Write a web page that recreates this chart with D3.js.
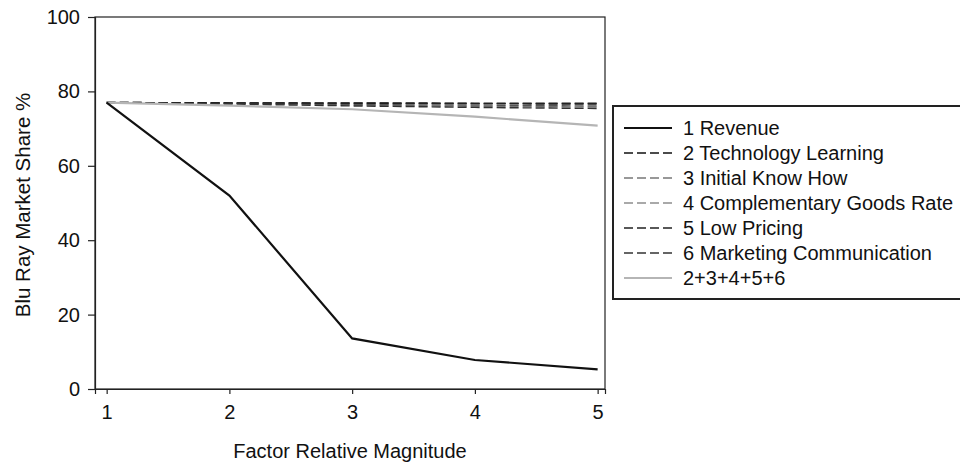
<!DOCTYPE html>
<html>
<head>
<meta charset="utf-8">
<script src="https://cdn.jsdelivr.net/npm/d3@7"></script>
<style>
  body { margin: 0; background: #fff; }
  text { font-family: Arial, "Liberation Sans", sans-serif; fill: #111; }
</style>
</head>
<body>
<div id="chart"></div>
<script>
// factor magnitude on the x axis
var magnitudes = [1, 2, 3, 4, 5];

// market share series
var revenue     = [77, 52, 13.6, 7.8, 5.3];
var techLearn   = [77, 76.9, 76.8, 76.7, 76.6];
var knowHow     = [77, 76.7, 76.3, 76.0, 75.8];
var compGoods   = [77, 76.8, 76.5, 76.3, 76.1];
var lowPricing  = [77, 76.9, 76.9, 76.8, 76.8];
var marketing   = [77, 76.6, 76.1, 75.7, 75.4];
var combined    = [77, 76.2, 75.2, 73.2, 70.8];

var yTicks = [0, 20, 40, 60, 80, 100];

var seriesNames = ['1 Revenue', '2 Technology Learning', '3 Initial Know How',
  '4 Complementary Goods Rate', '5 Low Pricing', '6 Marketing Communication', '2+3+4+5+6'];
var seriesValues = [revenue, techLearn, knowHow, compGoods, lowPricing, marketing, combined];

// line styles per series
var styles = [
  {color: '#111', width: 2.2, dash: null},
  {color: '#111', width: 1.6, dash: '9,4'},
  {color: '#777', width: 1.4, dash: '9,4'},
  {color: '#555', width: 1.2, dash: '9,4'},
  {color: '#222', width: 1.6, dash: '9,4'},
  {color: '#333', width: 1.4, dash: '9,4'},
  {color: '#b5b5b5', width: 2.2, dash: null}
];

var W = 960, H = 463;
var mLeft = 95, mRight = 605, mTop = 17, mBottom = 389;
var fs = 20;

var svg = d3.select('#chart').append('svg')
  .attr('width', W).attr('height', H);

var x = d3.scaleLinear().domain([0.905, 5.06]).range([mLeft, mRight]);
var y = d3.scaleLinear().domain([0, 100]).range([mBottom, mTop]);

// frame
svg.append('rect')
  .attr('x', mLeft).attr('y', mTop)
  .attr('width', mRight - mLeft).attr('height', mBottom - mTop)
  .attr('fill', 'none').attr('stroke', '#222').attr('stroke-width', 1.2);

var yAxis = svg.append('g')
  .attr('transform', 'translate(' + mLeft + ',0)')
  .call(d3.axisLeft(y).tickValues(yTicks).tickFormat(d3.format('d')).tickSize(7).tickPadding(8));
var xAxis = svg.append('g')
  .attr('transform', 'translate(0,' + mBottom + ')')
  .call(d3.axisBottom(x).tickValues(magnitudes).tickFormat(d3.format('d')).tickSize(5).tickPadding(11));

[yAxis, xAxis].forEach(function(g) {
  g.select('.domain').attr('stroke', '#222').attr('stroke-width', 1.2);
  g.selectAll('.tick line').attr('stroke', '#222').attr('stroke-width', 1.2);
  g.selectAll('.tick text').attr('font-size', fs).attr('font-family', 'Arial, "Liberation Sans", sans-serif').attr('fill', '#111');
});

var line = d3.line()
  .x(function(d, i) { return x(magnitudes[i]); })
  .y(function(d) { return y(d); });

// dashed first, then combined and revenue on top
var order = [1, 2, 3, 4, 5, 6, 0];
order.forEach(function(k) {
  svg.append('path')
    .datum(seriesValues[k])
    .attr('d', line)
    .attr('fill', 'none')
    .attr('stroke', styles[k].color)
    .attr('stroke-width', styles[k].width)
    .attr('stroke-dasharray', styles[k].dash);
});

// axis titles
svg.append('text')
  .attr('x', (mLeft + mRight) / 2).attr('y', 458)
  .attr('text-anchor', 'middle').attr('font-size', fs)
  .text('Factor Relative Magnitude');

svg.append('text')
  .attr('transform', 'translate(30,205) rotate(-90)')
  .attr('text-anchor', 'middle').attr('font-size', 20.5)
  .text('Blu Ray Market Share %');

// legend
var lg = svg.append('g').attr('transform', 'translate(613,106)');
lg.append('rect')
  .attr('x', 0).attr('y', 0).attr('width', 400).attr('height', 193)
  .attr('fill', '#fff').attr('stroke', '#222').attr('stroke-width', 2);

var rows = lg.selectAll('.row').data(seriesNames).enter()
  .append('g').attr('class', 'row')
  .attr('transform', function(d, i) { return 'translate(0,' + (22 + i * 25) + ')'; });

rows.append('line')
  .attr('x1', 11).attr('x2', 59).attr('y1', 0).attr('y2', 0)
  .attr('stroke', function(d, i) { return styles[i].color; })
  .attr('stroke-width', function(d, i) { return styles[i].width; })
  .attr('stroke-dasharray', function(d, i) { return styles[i].dash; });

rows.append('text')
  .attr('x', 70).attr('y', 7)
  .attr('font-size', fs)
  .text(function(d) { return d; });
</script>
</body>
</html>
